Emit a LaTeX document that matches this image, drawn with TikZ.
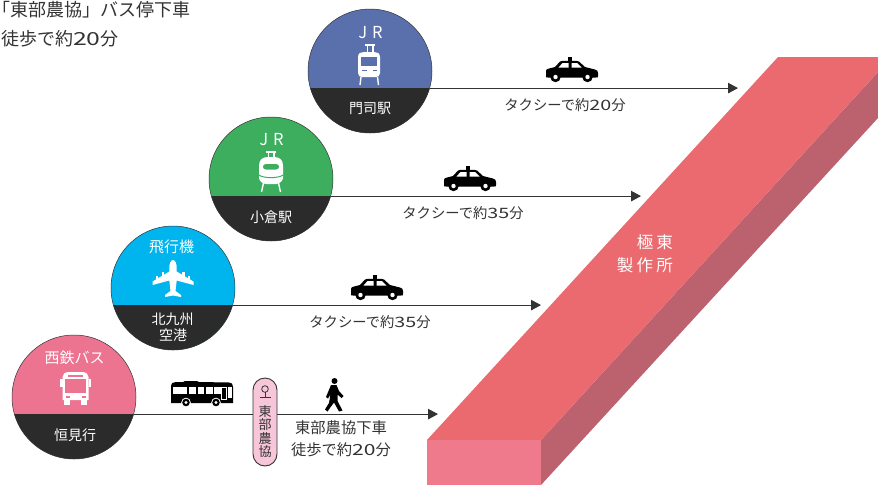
\documentclass[tikz,border=0pt]{standalone}
\usepackage{fontspec}
\setmainfont{Noto Sans CJK JP}
\newfontfamily\paltfont[RawFeature=+palt]{Noto Sans CJK JP}
\newfontfamily\widefont[FakeStretch=1.38]{Noto Sans CJK JP}
\usetikzlibrary{arrows.meta,calc}
\definecolor{inkc}{HTML}{333333}
\definecolor{bandc}{HTML}{2B2B2B}
\definecolor{bluec}{HTML}{5A70AD}
\definecolor{greenc}{HTML}{3DAE5E}
\definecolor{cyanc}{HTML}{00B4EE}
\definecolor{pinkc}{HTML}{EC7490}
\definecolor{topc}{HTML}{EB6A6F}
\definecolor{frontc}{HTML}{EE7A8B}
\definecolor{sidec}{HTML}{BC626F}
\definecolor{stopc}{HTML}{F7C6D9}
\newcommand{\fs}[1]{\fontsize{#1}{#1}\selectfont}
\newcommand{\dg}[1]{{\widefont #1}}
\newcommand{\stationdisc}[4]{%
  \node[disc,fill=#4] (#1) at (#2,#3) {};
  \begin{scope}
    \clip (#1) circle[radius=62pt];
    \fill[bandc] ($(#1)+(-63,17.3)$) rectangle ($(#1)+(63,63)$);
  \end{scope}
  \draw[inkc,line width=.5pt] (#1) circle[radius=62pt];
}
\tikzset{
  x=1pt,y=-1pt,
  disc/.style={circle,minimum size=124pt,inner sep=0pt,outer sep=0pt},
  route/.style={draw=inkc,line width=.9pt,-{Triangle[length=10pt,width=10.5pt,fill=inkc]}},
  label/.style={inner sep=0pt,text=inkc,font=\fs{14.3}},
  biglabel/.style={inner sep=0pt,text=inkc,font=\fs{15.3}},
  onband/.style={inner sep=0pt,text=white,font=\fs{14}},
  ondisc/.style={inner sep=0pt,text=white,font=\fs{15}},
  note/.style={inner sep=0pt,text=inkc,font=\fs{18},anchor=west},
  factory/.style={inner sep=0pt,text=white,font=\fs{16.5},anchor=east},
  stoptext/.style={inner sep=0pt,text=inkc,font=\fs{13}},
  taxi/.pic={
    \fill[black] (22,0) rectangle (26,5);
    \fill[black] (0,14) .. controls (0,12.5) and (1,12) .. (3,11.5) -- (9,10) -- (14,4.5) .. controls (15,3.8) .. (17,3.8) -- (30,3.8) .. controls (32,3.8) .. (33,4.5) -- (39,10) -- (49,12.5) .. controls (51,13) and (52,14) .. (52,16) -- (52,19) .. controls (52,20.5) .. (50,20.5) -- (2,20.5) .. controls (0,20.5) .. (0,19) -- cycle;
    \fill[white] (16.5,6) -- (22.5,6) -- (22.5,10.5) -- (12.5,10.5) -- cycle;
    \fill[white] (25.5,6) -- (31,6) -- (35.5,10.5) -- (25.5,10.5) -- cycle;
    \foreach \wx in {9.5,41.5}{
      \fill[black] (\wx,20) circle[radius=5.2pt];
      \fill[white] (\wx,20) circle[radius=2.2pt];
    }
  }
}
\begin{document}
\begin{tikzpicture}
\useasboundingbox (0,0) rectangle (878,485);
% factory
\fill[sidec] (541,440) -- (878,72) -- (878,118) -- (541,485) -- cycle;
\fill[topc] (427,440) -- (541,440) -- (878,72) -- (878,57) -- (778,57) -- cycle;
\fill[frontc] (427,440) rectangle (541,485);
\node[factory] (factoryA) at (673,242) {極\hspace{3pt}東};
\node[factory] (factoryB) at (673,265) {製\hspace{3.2pt}作\hspace{3.2pt}所};
% arrow ends
\coordinate (tipA) at (738,88);
\coordinate (tipB) at (641,196);
\coordinate (tipC) at (541,305);
\coordinate (tipD) at (438,414);
% discs
\stationdisc{mojiko}{370}{71}{bluec}
\stationdisc{kokura}{271}{179}{greenc}
\stationdisc{airport}{173}{288}{cyanc}
\stationdisc{bus}{74}{397}{pinkc}
% connectors
\draw[route] (mojiko.-16) -- (mojiko.-16 -| tipA);
\draw[route] (kokura.-16) -- (kokura.-16 -| tipB);
\draw[route] (airport.-16) -- (airport.-16 -| tipC);
\draw[route] (bus.-16) -- (bus.-16 -| tipD);
% top-left notes
\node[note] (noteA) at (1,9.5) {{\paltfont 「}東部農協」バス停下車};
\node[note] (noteB) at (1,39) {徒歩で約\dg{20}分};
% disc labels
\node[inner sep=0pt,text=white,font=\fs{16.5}] (jrA) at (370.5,33) {J\hspace{5pt}R};
\node[onband] (labA) at (370,108) {門司駅};
\node[inner sep=0pt,text=white,font=\fs{16.5}] (jrB) at (271.5,140) {J\hspace{5pt}R};
\node[onband] (labB) at (271,217) {小倉駅};
\node[ondisc] (labC) at (171.5,247) {飛行機};
\node[onband] (labD) at (172.5,319) {北九州};
\node[onband] (labE) at (173,335) {空港};
\node[ondisc] (labF) at (74.5,358) {西鉄バス};
\node[onband] (labG) at (75,435) {恒見行};
% taxis
\pic at (546,57) {taxi};
\pic at (444,166) {taxi};
\pic at (351,275) {taxi};
\node[label] (txA) at (565,105) {タクシーで約\dg{20}分};
\node[label] (txB) at (463,213) {タクシーで約\dg{35}分};
\node[label] (txC) at (370,322) {タクシーで約\dg{35}分};
\node[biglabel] (txD) at (341,428) {東部農協下車};
\node[biglabel] (txE) at (341,450) {徒歩で約\dg{20}分};
% tram 1 icon
\fill[white] (365,44) rectangle (375,45.5);
\fill[white] (366.5,45) rectangle (368,52);
\fill[white] (372,45) rectangle (373.5,52);
\fill[white] (358,57) .. controls (358,53) and (361,52) .. (364,52) -- (374,52) .. controls (377,52) and (380,53) .. (380,57) -- (380,73) .. controls (380,76) and (378,77) .. (376,77) -- (362,77) .. controls (360,77) and (358,76) .. (358,73) -- cycle;
\fill[bluec] (361,57) rectangle (377,65.5);
\fill[bluec] (362,69.5) rectangle (366.5,71);
\fill[bluec] (372.5,69.5) rectangle (376.5,71);
\draw[white,line width=1.4pt] (361,77) -- (360,85);
\draw[white,line width=1.4pt] (377.5,77) -- (378.5,85);
% tram 2 icon
\fill[white] (266,151) rectangle (276,152.5);
\fill[white] (267.5,152) rectangle (269,158);
\fill[white] (273,152) rectangle (274.5,158);
\fill[white] (259,166) .. controls (259,160) and (262,157) .. (268,157) -- (274,157) .. controls (280,157) and (283,160) .. (283,166) -- (283,178) .. controls (283,180) and (280,184) .. (276,184) -- (266,184) .. controls (262,184) and (259,180) .. (259,178) -- cycle;
\fill[greenc] (266,164) -- (276,164) .. controls (280,164) and (280,169.5) .. (276,169.5) -- (266,169.5) .. controls (262,169.5) and (262,164) .. (266,164) -- cycle;
\draw[greenc,line width=1pt] (259,175) .. controls (263,178.5) and (279,178.5) .. (283,175);
\draw[white,line width=1.4pt] (263.5,183) -- (261.5,192);
\draw[white,line width=1.4pt] (278.5,183) -- (280.5,192);
% plane icon
\fill[white] (173,260) .. controls (175.5,260) and (176.7,264) .. (176.7,268) -- (176.7,271.5) -- (193.5,281.5) -- (193.5,285) -- (176.7,280.5) -- (175.5,291) -- (181,295) -- (181,297) -- (173,295.5) -- (165,297) -- (165,295) -- (170.5,291) -- (169.3,280.5) -- (152.5,285) -- (152.5,281.5) -- (169.3,271.5) -- (169.3,268) .. controls (169.3,264) and (170.5,260) .. (173,260) -- cycle;
\fill[white] (161.5,272) rectangle (164,279);
\fill[white] (182,272) rectangle (184.5,279);
\fill[white] (155.8,276) rectangle (158,282);
\fill[white] (188,276) rectangle (190.2,282);
% bus front icon
\fill[white] (62.5,377) .. controls (62.5,374) and (65,372) .. (69,372) -- (82,372) .. controls (86,372) and (88.5,374) .. (88.5,377) -- (88.5,400) -- (62.5,400) -- cycle;
\fill[white] (60,379) rectangle (62.5,387);
\fill[white] (88.5,379) rectangle (91,387);
\fill[white] (64,400) rectangle (70,404.5);
\fill[white] (81,400) rectangle (87,404.5);
\fill[pinkc] (68,374.5) rectangle (83,376.5);
\fill[pinkc] (65,378.5) rectangle (86,392.5);
\fill[pinkc] (65.5,395.5) rectangle (69.5,398);
\fill[pinkc] (81.5,395.5) rectangle (85.5,398);
% side bus icon
\fill[black] (171,387) .. controls (171,383) and (173,382) .. (176,382) -- (183,382) -- (185,381) -- (197,381) -- (199,382) -- (229,382.5) .. controls (232,382.5) and (233,384) .. (233,387) -- (233,403) -- (171,403) -- cycle;
\foreach \wx in {173,180,189,197.5,206,214}{\fill[white] (\wx,387) rectangle ++(6.8,7);}
\fill[white] (221,387) rectangle (226.5,400);
\fill[black] (222,388) rectangle (225.5,399);
\fill[white] (228,387) rectangle (232,398);
\foreach \wx in {186,216}{
  \fill[white] (\wx,402.5) circle[radius=4.8pt];
  \fill[black] (\wx,402.5) circle[radius=3.8pt];
  \fill[white] (\wx,402.5) circle[radius=1.6pt];
}
% bus stop
\node[draw=inkc,fill=stopc,line width=.9pt,rounded corners=12pt,minimum width=24pt,minimum height=88pt,inner sep=0pt] (stop) at (265,422) {};
\draw[inkc,line width=.8pt] (265,389) circle[radius=3.3pt];
\draw[inkc,line width=.8pt] (265,392.3) -- (265,397) (260,397) -- (270.5,397);
\node[stoptext] (stopA) at (265,412) {東};
\node[stoptext] (stopB) at (265,425) {部};
\node[stoptext] (stopC) at (265,438.5) {農};
\node[stoptext] (stopD) at (265,452) {協};
% walker
\fill[black] (334.5,381) circle[radius=3pt];
\fill[black] (331,385) -- (336.5,385) -- (339,391) -- (343.5,396) -- (341.5,398) -- (337.5,394.5) -- (337.5,401) -- (342.5,410.5) -- (339,411.5) -- (334,402.5) -- (331,406.5) -- (327.5,411.5) -- (325,409.5) -- (329,403) -- (330.5,394.5) -- (328,398.5) -- (326,397) -- cycle;
\end{tikzpicture}
\end{document}
